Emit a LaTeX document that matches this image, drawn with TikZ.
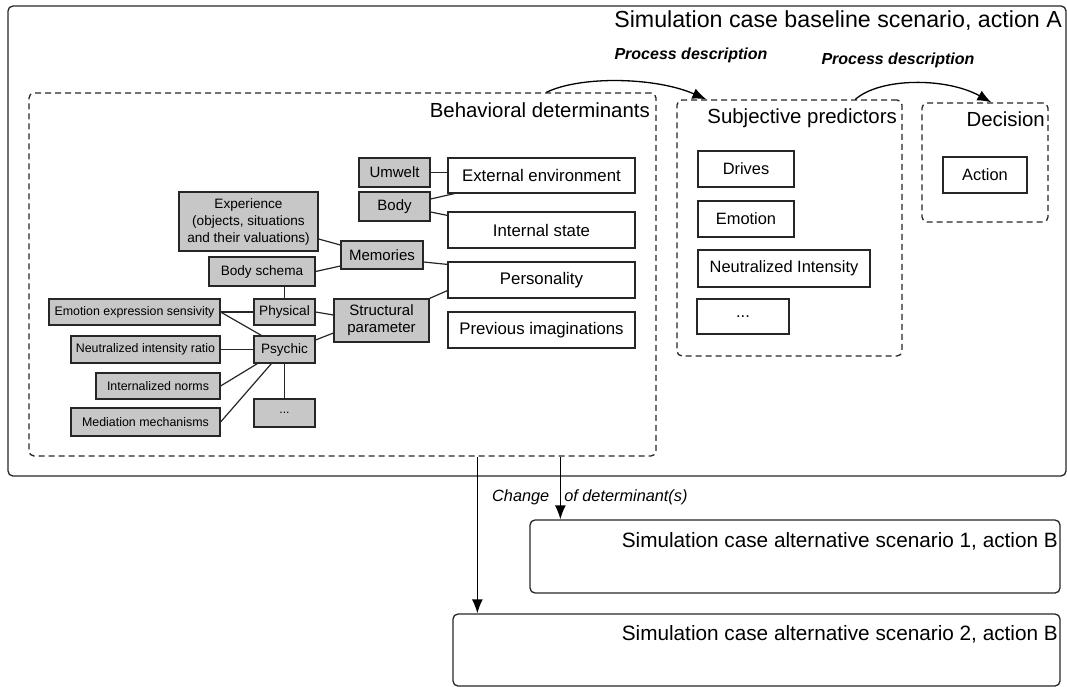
\documentclass[tikz,border=0pt]{standalone}
\usepackage{fontspec}
\setmainfont{Liberation Sans}
\usetikzlibrary{arrows.meta}

\begin{document}
\begin{tikzpicture}[x=1pt, y=-1pt,
    frame/.style={draw=black!85, line width=1.3pt, rounded corners=5pt, inner sep=0pt},
    dframe/.style={frame, dash pattern=on 6pt off 4pt},
    gbox/.style={draw=black!85, fill=black!22, line width=1.2pt, inner sep=0pt, align=center},
    wbox/.style={draw=black!85, fill=white, line width=1.2pt, inner sep=0pt, align=center},
    title/.style={anchor=base east, inner sep=0pt, font=\fontsize{20.4}{24}\selectfont},
    link/.style={draw=black!85, line width=1.2pt},
    arr/.style={draw=black, line width=1.3pt, -{Latex[length=14pt, width=11pt]}},
    note/.style={inner sep=0pt, font=\fontsize{16}{19}\selectfont\bfseries\itshape}]
      \useasboundingbox (0, 0) rectangle (1067, 687);

      \node[frame, minimum width=1058, minimum height=470] (base) at (537, 241) {};
      \node[title, font=\fontsize{23.2}{27}\selectfont] (basetitle) at (1062, 28) {Simulation case baseline scenario, action A};

      \node[dframe, minimum width=627, minimum height=363] (behav) at (342.5, 274.5) {};
      \node[title] (behavtitle) at (650, 118) {Behavioral determinants};
      \node[dframe, minimum width=225, minimum height=256] (subj) at (789.5, 228) {};
      \node[title] (subjtitle) at (897, 124) {Subjective predictors};
      \node[dframe, minimum width=126, minimum height=119] (decis) at (985, 162.5) {};
      \node[title] (decistitle) at (1045, 127) {Decision};

      \node[frame, minimum width=530, minimum height=73] (alt1) at (795, 556.5) {};
      \node[title, font=\fontsize{20.75}{24}\selectfont] (alt1title) at (1058, 547) {Simulation case alternative scenario 1, action B};
      \node[frame, minimum width=607, minimum height=72] (alt2) at (756.5, 650) {};
      \node[title, font=\fontsize{20.75}{24}\selectfont] (alt2title) at (1058, 640) {Simulation case alternative scenario 2, action B};

      \node[gbox, minimum width=71, minimum height=29, font=\fontsize{15}{18}\selectfont] (umw) at (394.5, 172.5) {Umwelt};
      \node[gbox, minimum width=71, minimum height=29, font=\fontsize{15}{18}\selectfont] (body) at (394.5, 206.5) {Body};
      \node[gbox, minimum width=139, minimum height=59, font=\fontsize{13.6}{17}\selectfont] (exp) at (248.5, 221.5) {Experience\\(objects, situations\\and their valuations)};
      \node[gbox, minimum width=82, minimum height=28, font=\fontsize{15}{18}\selectfont] (mem) at (382, 255) {Memories};
      \node[gbox, minimum width=106, minimum height=29, font=\fontsize{13.6}{17}\selectfont] (bsch) at (262, 271.5) {Body schema};
      \node[gbox, minimum width=171, minimum height=26, font=\fontsize{12.4}{15}\selectfont] (ees) at (134.5, 312) {Emotion expression sensivity};
      \node[gbox, minimum width=61, minimum height=26, font=\fontsize{13.6}{17}\selectfont] (phys) at (284.5, 312) {Physical};
      \node[gbox, minimum width=95, minimum height=43, font=\fontsize{15}{17}\selectfont] (struct) at (381.5, 320.5) {Structural\\parameter};
      \node[gbox, minimum width=149, minimum height=27, font=\fontsize{12.4}{15}\selectfont] (nir) at (145.5, 349.5) {Neutralized intensity ratio};
      \node[gbox, minimum width=61, minimum height=27, font=\fontsize{13.6}{17}\selectfont] (psych) at (284.5, 349.5) {Psychic};
      \node[gbox, minimum width=124, minimum height=26, font=\fontsize{12.4}{15}\selectfont] (inorm) at (158, 386) {Internalized norms};
      \node[gbox, minimum width=149, minimum height=28, font=\fontsize{12.4}{15}\selectfont] (med) at (145.5, 422) {Mediation mechanisms};
      \node[gbox, minimum width=61, minimum height=28, font=\fontsize{12.4}{15}\selectfont] (gdots) at (284.5, 413) {...};

      \node[wbox, minimum width=187, minimum height=35, font=\fontsize{16.8}{20}\selectfont] (ext) at (541.5, 175.5) {External environment};
      \node[wbox, minimum width=187, minimum height=36, font=\fontsize{16.8}{20}\selectfont] (int) at (541.5, 230) {Internal state};
      \node[wbox, minimum width=187, minimum height=36, font=\fontsize{16.8}{20}\selectfont] (pers) at (541.5, 280) {Personality};
      \node[wbox, minimum width=187, minimum height=36, font=\fontsize{16.8}{20}\selectfont] (prev) at (541.5, 330) {Previous imaginations};

      \node[wbox, minimum width=96, minimum height=36, font=\fontsize{16.4}{20}\selectfont] (drv) at (746, 169) {Drives};
      \node[wbox, minimum width=96, minimum height=36, font=\fontsize{16.4}{20}\selectfont] (emo) at (746, 219) {Emotion};
      \node[wbox, minimum width=172, minimum height=37, font=\fontsize{16.4}{20}\selectfont] (ni) at (784, 268.5) {Neutralized Intensity};
      \node[wbox, minimum width=92, minimum height=35, font=\fontsize{16.4}{20}\selectfont] (wdots) at (743, 316.5) {...};
      \node[wbox, minimum width=84, minimum height=36, font=\fontsize{16.4}{20}\selectfont] (act) at (985, 175) {Action};

      \draw[link] (umw.east) -- (umw.east -| ext.west);
      \draw[link] ([yshift=7.5]body.east) -- ([xshift=7]ext.south west);
      \draw[link] ([yshift=-5.5]body.east) -- ([yshift=-4]int.north west);
      \draw[link] ([yshift=-7]mem.east) -- ([yshift=-3]pers.north west);
      \draw[link] (struct.north east) -- ([yshift=8]pers.south west);
      \draw[link] ([yshift=-17.5]exp.east) -- ([yshift=10]mem.west);
      \draw[link] (bsch.east) -- ([yshift=-11]mem.west);
      \draw[link] (phys.north) -- (phys.north |- bsch.south);
      \draw[link] (ees.east) -- (phys.west);
      \draw[link] (ees.east) -- ([xshift=8]psych.north west);
      \draw[link] (nir.east) -- (psych.west);
      \draw[link] (inorm.east) -- ([xshift=4]psych.south west);
      \draw[link] (med.east) -- ([xshift=18]psych.south west);
      \draw[link] (psych.south) -- (gdots.north);
      \draw[link] (phys.east) -- ([yshift=5.5]struct.west);
      \draw[link] ([yshift=9.5]psych.east) -- ([yshift=-12.5]struct.west);

      \draw[arr] ([xshift=518]behav.north west) .. controls +(35, -17) and +(-50, -22) .. ([xshift=30]subj.north west);
      \draw[arr] ([xshift=179]subj.north west) .. controls +(25, -22) and +(-45, -25) .. ([xshift=70]decis.north west);
      \node[note] (pd1) at (691, 55) {Process description};
      \node[note] (pd2) at (898, 60) {Process description};

      \draw[arr] ([xshift=449]behav.south west) -- ([xshift=25]alt2.north west);
      \draw[arr] ([xshift=532]behav.south west) -- ([xshift=31]alt1.north west);
      \node[inner sep=0pt, anchor=west, font=\fontsize{16.3}{19}\selectfont\itshape] (chg) at (492, 497) {Change\hspace{10.5pt} of determinant(s)};
\end{tikzpicture}
\end{document}
